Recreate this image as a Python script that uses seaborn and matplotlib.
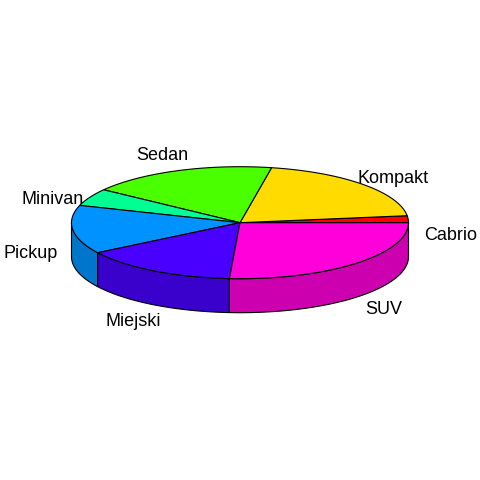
import matplotlib

matplotlib.use("Agg")
import matplotlib.pyplot as plt
import numpy as np
import seaborn as sns

# Dane: udział typów nadwozia (%)
categories = ["Cabrio", "Kompakt", "Sedan", "Minivan", "Pickup", "Miejski", "SUV"]
values = [2, 20, 18, 5, 14, 15, 26]
colors = ["#FF0000", "#FFDB00", "#49FF00", "#00FF92", "#0092FF", "#4900FF", "#FF00DB"]

# Geometria "3D" (w pikselach obrazu 480x480)
CX, CY = 240.0, 222.7
RX, RY = 168.5, 56.0
DEPTH = 34.0
LAB_RX, LAB_RY = 1.25 * RX, 93.0
LAB_DY = DEPTH / 2 + 2
SHADE = 0.8

sns.set_style("white")
plt.rcParams["font.family"] = ["Liberation Sans", "DejaVu Sans"]


def arc(a, b, dy=0.0, n=80):
    t = np.radians(np.linspace(a, b, n))
    return CX + RX * np.cos(t), CY - RY * np.sin(t) + dy


fig = plt.figure(figsize=(4.8, 4.8), dpi=100)
ax = fig.add_axes([0, 0, 1, 1])
ax.set_xlim(0, 480)
ax.set_ylim(480, 0)
ax.set_axis_off()

vals = np.array(values, dtype=float)
edges = np.concatenate([[0.0], np.cumsum(vals) / vals.sum() * 360.0])

# boki (tylko przednia połowa, 180°-360°)
for i, col in enumerate(colors):
    a, b = max(edges[i], 180.0), min(edges[i + 1], 360.0)
    if b <= a:
        continue
    xt, yt = arc(a, b)
    xb, yb = arc(a, b, DEPTH)
    side = np.array(matplotlib.colors.to_rgb(col)) * SHADE
    ax.fill(np.r_[xt, xb[::-1]], np.r_[yt, yb[::-1]], color=side,
            ec="black", lw=0.8, zorder=1)

# wierzch
for i, col in enumerate(colors):
    xs, ys = arc(edges[i], edges[i + 1])
    ax.fill(np.r_[CX, xs], np.r_[CY, ys], color=col, ec="black", lw=0.8, zorder=2)

# etykiety
for i, name in enumerate(categories):
    m = np.radians((edges[i] + edges[i + 1]) / 2)
    ax.text(CX + LAB_RX * np.cos(m), CY + LAB_DY - LAB_RY * np.sin(m), name,
            ha="center", va="center", fontsize=13, color="black", zorder=3)

fig.savefig("out.png", dpi=100, facecolor="white")
